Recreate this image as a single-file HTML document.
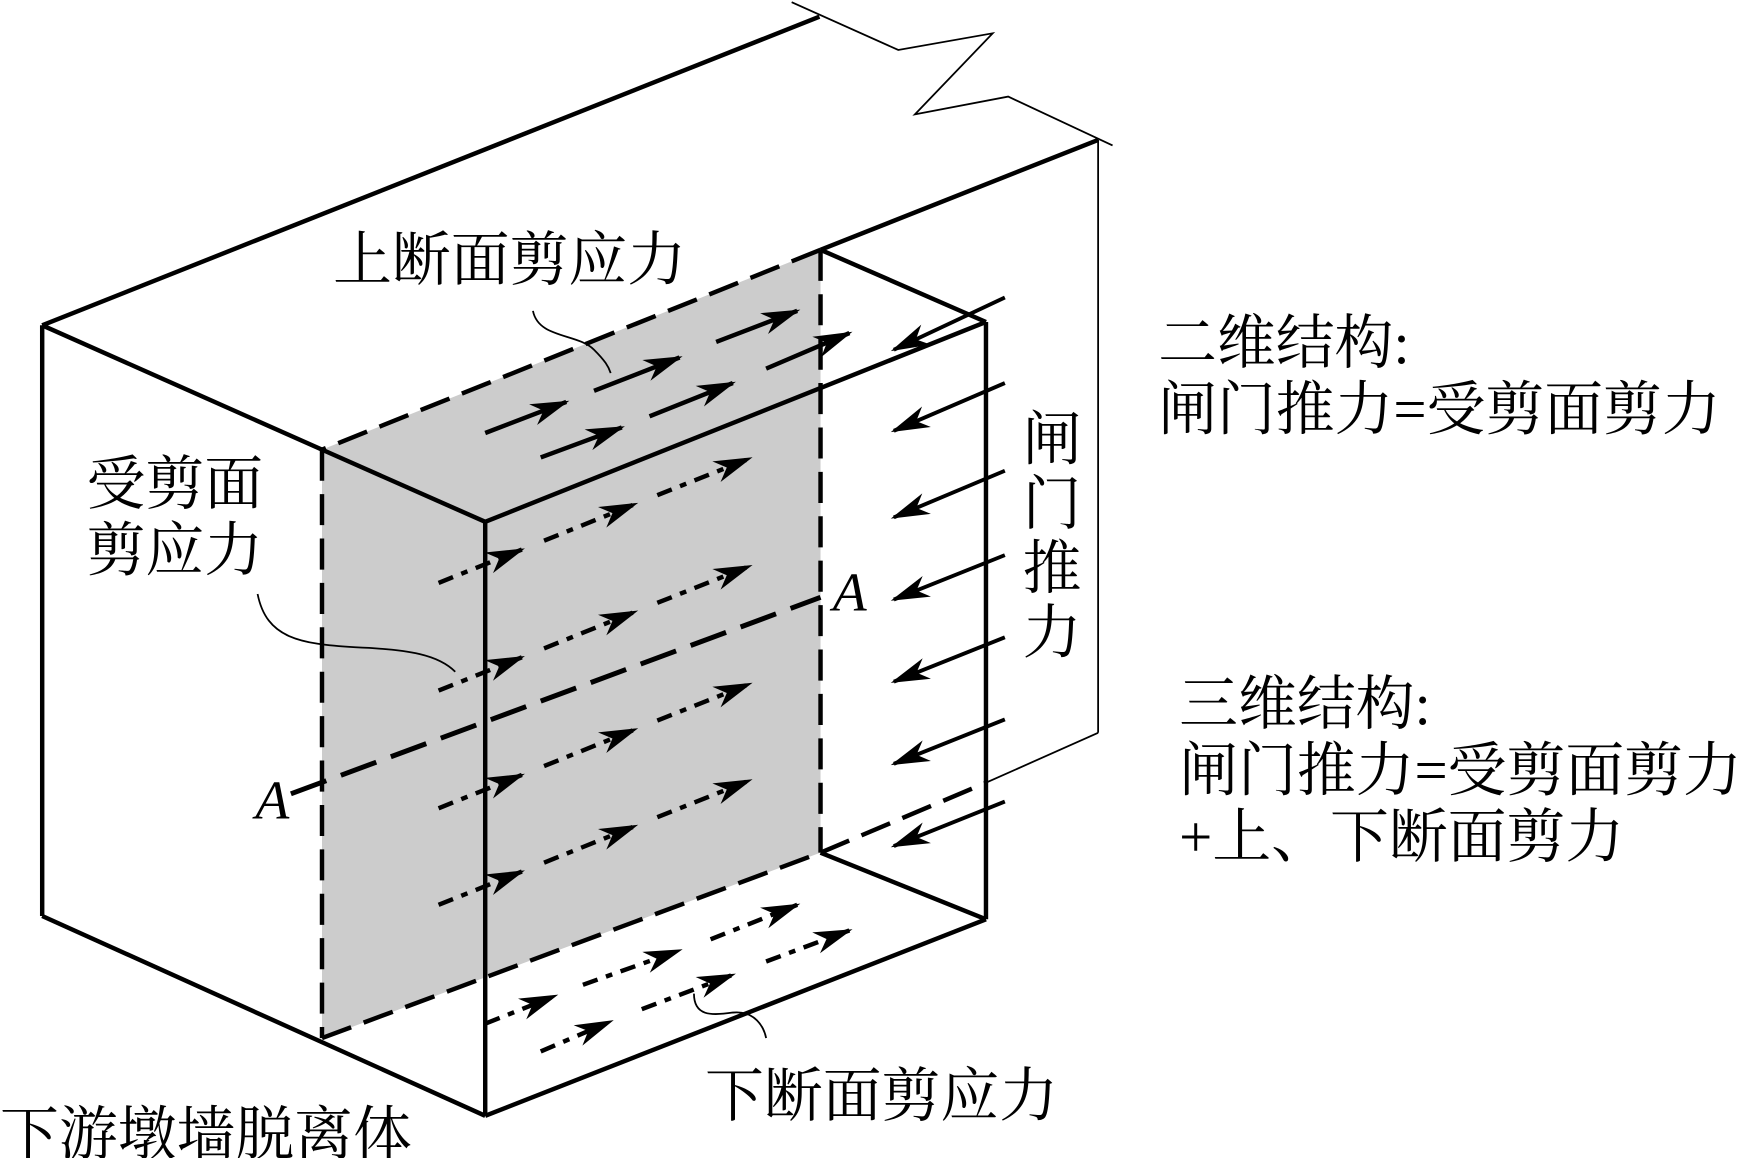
<!DOCTYPE html>
<html><head><meta charset="utf-8"><style>
html,body{margin:0;padding:0;background:#fff;}
svg{display:block;}
text{font-family:"Liberation Serif","Noto Serif CJK SC","Noto Sans CJK SC",serif;fill:#000;}
</style></head><body>
<svg width="1741" height="1158" viewBox="0 0 1568 1043" preserveAspectRatio="none" xmlns="http://www.w3.org/2000/svg">
<defs>
<marker id="ah" markerUnits="userSpaceOnUse" markerWidth="40" markerHeight="24" viewBox="-34 -12 40 24" refX="0" refY="0" orient="auto">
<path d="M3,0 L-32,-10 L-22,0 L-32,10 z" fill="#000"/>
</marker>
</defs>
<polygon points="290,405 739,225 739,768 290,935" fill="#cccccc"/>
<g stroke="#000" fill="none" stroke-width="4" stroke-linecap="butt">
<line x1="38" y1="293" x2="738" y2="15"/>
<line x1="38" y1="293" x2="290" y2="405"/>
<line x1="38" y1="293" x2="38" y2="825"/>
<line x1="38" y1="825" x2="437" y2="1005"/>
<line x1="989" y1="126" x2="739" y2="225"/>
<line x1="290" y1="405" x2="437" y2="470"/>
<line x1="437" y1="470" x2="888" y2="290"/>
<line x1="739" y1="225" x2="888" y2="290"/>
<line x1="888" y1="290" x2="888" y2="828"/>
<line x1="437" y1="470" x2="437" y2="1005"/>
<line x1="437" y1="1005" x2="888" y2="828"/>
<line x1="739" y1="768" x2="888" y2="828"/>
</g>
<g stroke="#000" fill="none" stroke-width="4" stroke-dasharray="28,12">
<line x1="739" y1="225" x2="290" y2="405"/>
<line x1="290" y1="405" x2="290" y2="935"/>
<line x1="739" y1="225" x2="739" y2="768"/>
<line x1="290" y1="935" x2="739" y2="768"/>
<line x1="739" y1="768" x2="888" y2="705"/>
</g>
<g stroke="#000" fill="none" stroke-width="4.5" stroke-dasharray="34,14">
<line x1="262" y1="715" x2="739" y2="538"/>
</g>
<g stroke="#000" fill="none" stroke-width="1.6">
<polyline points="713,2 809,45 894,30 824,103 908,87 1002,131"/>
<line x1="989" y1="126" x2="989" y2="660"/>
<line x1="989" y1="660" x2="888" y2="705"/>
<path d="M480,280 C485,305 520,300 535,315 C545,325 548,330 550,336"/>
<path d="M232,535 C240,575 270,580 320,583 C370,585 395,590 410,605"/>
<path d="M625,895 C625,915 640,915 660,912 C680,910 688,925 690,935"/>
</g>
<g stroke="#000" stroke-width="4" marker-end="url(#ah)">
<line x1="437" y1="390" x2="510" y2="362"/>
<line x1="535" y1="352" x2="612" y2="322"/>
<line x1="645" y1="308" x2="718" y2="280"/>
<line x1="487" y1="412" x2="560" y2="385"/>
<line x1="585" y1="375" x2="660" y2="345"/>
<line x1="690" y1="332" x2="765" y2="300"/>
</g>
<g stroke="#000" stroke-width="3.5" marker-end="url(#ah)">
<line x1="905" y1="268" x2="805" y2="315"/>
<line x1="905" y1="345" x2="805" y2="388"/>
<line x1="905" y1="424" x2="805" y2="466"/>
<line x1="905" y1="500" x2="805" y2="540"/>
<line x1="905" y1="574" x2="805" y2="614"/>
<line x1="905" y1="648" x2="805" y2="688"/>
<line x1="905" y1="722" x2="805" y2="762"/>
</g>
<g stroke="#000" stroke-width="4" stroke-dasharray="14,8,6,8" marker-end="url(#ah)">
<line x1="395" y1="525" x2="470" y2="495"/><line x1="490" y1="487" x2="572" y2="454"/><line x1="592" y1="446" x2="675" y2="413"/>
<line x1="395" y1="622" x2="470" y2="592"/><line x1="490" y1="584" x2="572" y2="551"/><line x1="592" y1="543" x2="675" y2="510"/>
<line x1="395" y1="728" x2="470" y2="698"/><line x1="490" y1="690" x2="572" y2="657"/><line x1="592" y1="649" x2="675" y2="616"/>
<line x1="395" y1="815" x2="470" y2="785"/><line x1="490" y1="777" x2="572" y2="744"/><line x1="592" y1="736" x2="675" y2="703"/>
<line x1="437" y1="922" x2="500" y2="897"/><line x1="525" y1="887" x2="612" y2="856"/><line x1="640" y1="846" x2="718" y2="815"/>
<line x1="487" y1="947" x2="550" y2="920"/><line x1="578" y1="909" x2="660" y2="878"/><line x1="690" y1="866" x2="765" y2="838"/>
</g>
<g font-size="53">
<text x="300" y="252">上断面剪应力</text>
<text x="78" y="454">受剪面</text>
<text x="78" y="514">剪应力</text>
<text x="635" y="1005">下断面剪应力</text>
<text x="0" y="1040">下游墩墙脱离体</text>
<text x="921" y="414">闸</text>
<text x="921" y="472">门</text>
<text x="921" y="530">推</text>
<text x="921" y="588">力</text>
<text x="1043" y="327">二维结构:</text>
<text x="1043" y="387">闸门推力=受剪面剪力</text>
<text x="1062" y="652">三维结构:</text>
<text x="1062" y="712">闸门推力=受剪面剪力</text>
<text x="1062" y="772">+上、下断面剪力</text>
</g>
<g font-size="50" font-style="italic">
<text x="230" y="737">A</text>
<text x="750" y="550">A</text>
</g>
</svg>
</body></html>
